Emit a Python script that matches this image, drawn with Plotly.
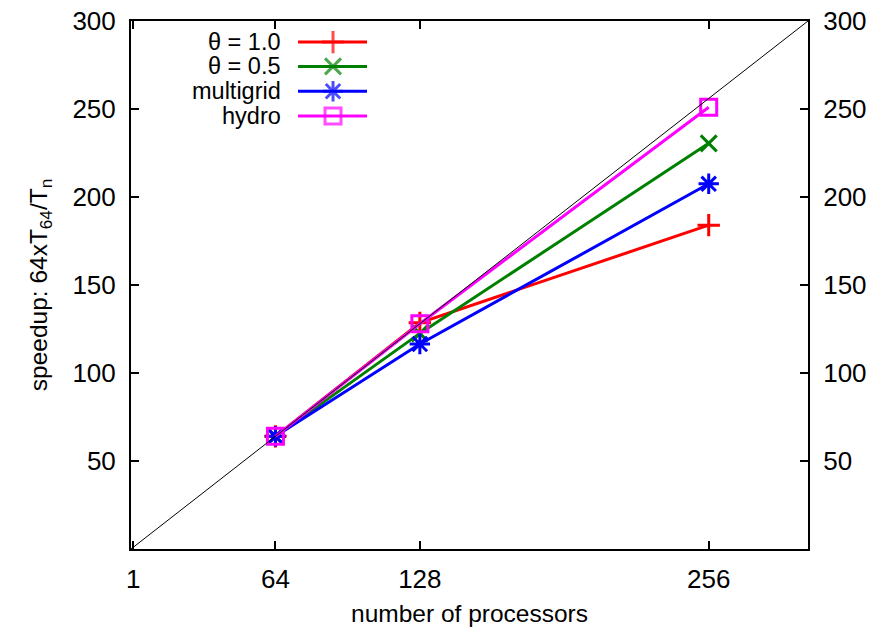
import plotly.graph_objects as go

procs = [64, 128, 256]
theta10 = [64, 128.5, 184]
theta05 = [64, 122.5, 230.5]
multigrid = [64, 116.5, 207.5]
hydro = [64, 128, 251]

names = ["θ = 1.0", "θ = 0.5", "multigrid", "hydro"]
series = [theta10, theta05, multigrid, hydro]
colors = ["#ff0000", "#008000", "#0000ff", "#ff00ff"]
symbols = ["cross-thin-open", "x-thin-open", "asterisk-open", "square-open"]
msizes = [16, 16, 17, 16]

ideal_x = [0, 300]
ideal_y = [0, 300]

xticks = [1, 64, 128, 256]
yticks = [50, 100, 150, 200, 250, 300]

FONT = "Liberation Sans, Arial, sans-serif"
FS = 24.5
LFS = 23.5
TFS = 26

fig = go.Figure()
for name, ys, c, s, ms in zip(names, series, colors, symbols, msizes):
    fig.add_trace(go.Scatter(
        x=procs, y=ys, mode="lines+markers", name=name,
        line=dict(color=c, width=3),
        marker=dict(symbol=s, size=ms, color=c, line=dict(color=c, width=3)),
        showlegend=False, cliponaxis=False,
    ))

fig.add_trace(go.Scatter(x=ideal_x, y=ideal_y, mode="lines", yaxis="y2",
                         line=dict(color="black", width=1), showlegend=False))

# custom gnuplot-style legend (text on left, sample on right)
leg_rows = [0.960, 0.914, 0.867, 0.820]
for name, c, s, ms, yr in zip(names, colors, symbols, msizes, leg_rows):
    fig.add_trace(go.Scatter(
        x=[0.2467, 0.2984, 0.3486], y=[yr, yr, yr], mode="lines+markers",
        xaxis="x3", yaxis="y3",
        line=dict(color=c, width=3),
        marker=dict(symbol=s, size=[0, ms, 0], color=c, line=dict(color=c, width=3)),
        showlegend=False, hoverinfo="skip",
    ))
    fig.add_annotation(x=0.2245, y=yr, xref="paper", yref="paper", text=name,
                       showarrow=False, xanchor="right", yanchor="middle",
                       font=dict(family=FONT, size=LFS, color="black"))

axis_common = dict(
    showgrid=False, zeroline=False, showline=True, linecolor="black", linewidth=2,
    ticks="inside", ticklen=8, tickwidth=1.5, tickcolor="black", automargin=False,
    tickfont=dict(family=FONT, size=TFS, color="black"),
)

fig.update_layout(
    width=892, height=628,
    margin=dict(l=131, r=84, t=21, b=79),
    paper_bgcolor="white", plot_bgcolor="white",
    showlegend=False,
    xaxis=dict(range=[0, 300], tickvals=xticks, ticktext=[str(t) for t in xticks],
               mirror="ticks", ticklabelstandoff=6,
               title=dict(text="number of processors", standoff=12,
                          font=dict(family=FONT, size=FS, color="black")),
               **axis_common),
    yaxis=dict(range=[0, 300], tickvals=yticks, mirror="ticks", ticklabelstandoff=8,
               title=dict(text="speedup: 64xT<sub>64</sub>/T<sub>n</sub>", standoff=18,
                          font=dict(family=FONT, size=FS, color="black")),
               **axis_common),
    yaxis2=dict(range=[0, 300], tickvals=yticks, overlaying="y", side="right",
                ticklabelstandoff=8, **axis_common),
    xaxis3=dict(range=[0, 1], overlaying="x", anchor="y3", visible=False),
    yaxis3=dict(range=[0, 1], overlaying="y", anchor="x3", visible=False),
)

fig.write_html("out.html")
